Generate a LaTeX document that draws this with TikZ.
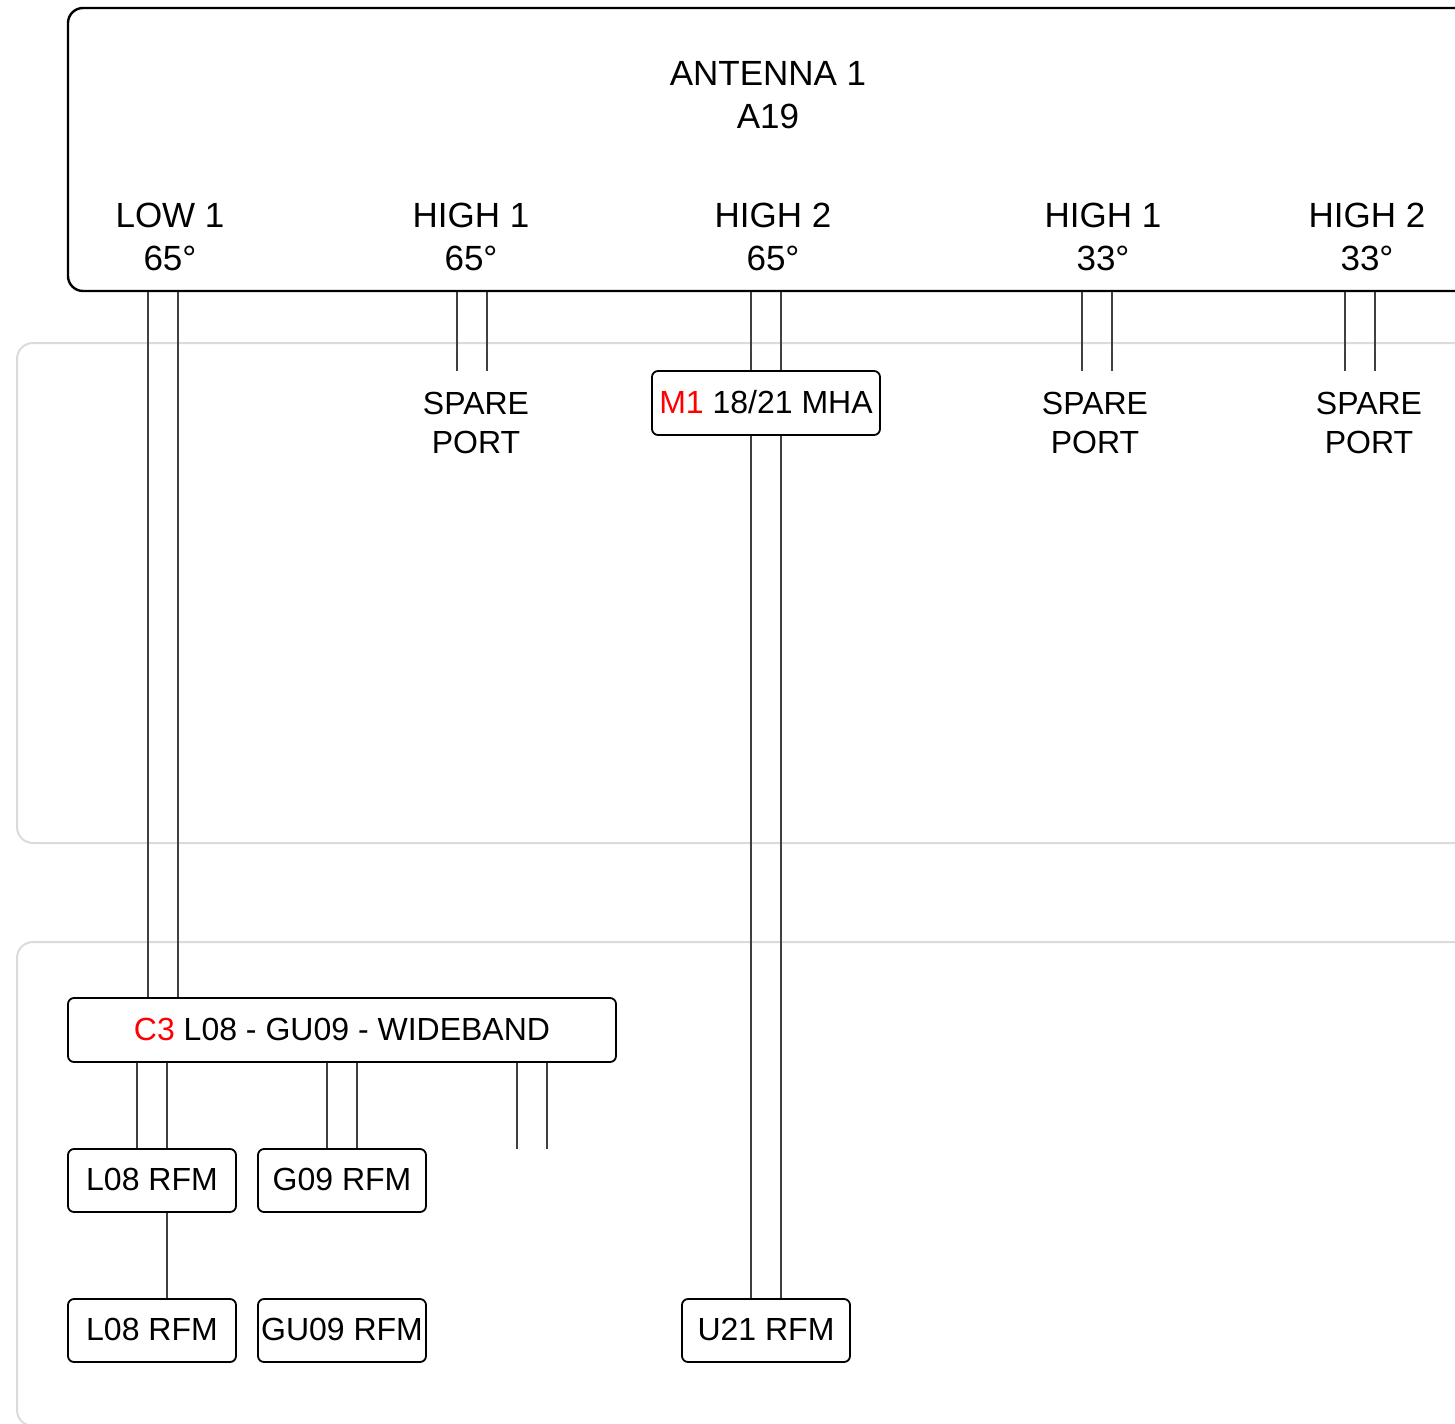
\documentclass[tikz,border=0pt]{standalone}
\usepackage{fontspec}
\setmainfont{Liberation Sans}
\begin{document}
\begin{tikzpicture}[x=0.5pt,y=-0.5pt,
  panel/.style={draw=black!14, line width=1pt, rounded corners=8pt},
  antbox/.style={draw=black, line width=1.2pt, rounded corners=7.5pt, inner sep=0pt},
  unitbox/.style={draw=black, line width=0.9pt, rounded corners=3pt, inner sep=0pt,
    font=\fontsize{16}{19.5}\selectfont, text height=1.0em, text depth=0pt},
  lbl/.style={font=\fontsize{17.5}{21.5}\selectfont, align=center, inner sep=0pt},
  spare/.style={font=\fontsize{16}{19.5}\selectfont, align=center, inner sep=0pt},
  feeder/.style={draw=black!75, line width=0.6pt}
]
\useasboundingbox (0,0) rectangle (1455,1423);
\clip (0,0) rectangle (1455,1423);
% background panels
\node[panel, minimum width=731.5pt, minimum height=250pt] (p1) at (748.5,593) {};
\node[panel, minimum width=731.5pt, minimum height=242pt] (p2) at (748.5,1184) {};
% antenna
\node[antbox, minimum width=701pt, minimum height=141.5pt] (ant) at (769,149.5) {};
\node[lbl] (antname) at (768,95) {ANTENNA 1\\A19};
\node[lbl] (low1) at (170,237) {LOW 1\\65°};
\node[lbl] (hi1a) at (471,237) {HIGH 1\\65°};
\node[lbl] (hi2a) at (773,237) {HIGH 2\\65°};
\node[lbl] (hi1b) at (1103,237) {HIGH 1\\33°};
\node[lbl] (hi2b) at (1367,237) {HIGH 2\\33°};
% spare ports
\node[spare] (sp1) at (476,423) {SPARE\\PORT};
\node[spare] (sp2) at (1095,423) {SPARE\\PORT};
\node[spare] (sp3) at (1369,423) {SPARE\\PORT};
\coordinate (sp1t) at (472,371);
\coordinate (sp2t) at (1097,371);
\coordinate (sp3t) at (1360,371);
% units
\node[unitbox, minimum width=114pt, minimum height=32pt] (m1) at (766,403) {\textcolor[rgb]{1,0,0}{M1} 18/21 MHA};
\node[unitbox, minimum width=274pt, minimum height=32pt] (c3) at (342,1030) {\textcolor[rgb]{1,0,0}{C3} L08 - GU09 - WIDEBAND};
\node[unitbox, minimum width=84pt, minimum height=31.5pt] (l08a) at (152,1180.5) {L08 RFM};
\node[unitbox, minimum width=84pt, minimum height=31.5pt] (g09) at (342,1180.5) {G09 RFM};
\node[unitbox, minimum width=84pt, minimum height=31.5pt] (l08b) at (152,1330.5) {L08 RFM};
\node[unitbox, minimum width=84pt, minimum height=31.5pt] (gu09) at (342,1330.5) {GU09 RFM};
\node[unitbox, minimum width=84pt, minimum height=31.5pt] (u21) at (766,1330.5) {U21 RFM};
\coordinate (dang) at (532,1149);
% feeders
\draw[feeder] (ant.south -| 148,0) -- (c3.north -| 148,0);
\draw[feeder] (ant.south -| 178,0) -- (c3.north -| 178,0);
\draw[feeder] (ant.south -| 457,0) -- (sp1t -| 457,0);
\draw[feeder] (ant.south -| 487,0) -- (sp1t -| 487,0);
\draw[feeder] (ant.south -| 751,0) -- (m1.north -| 751,0);
\draw[feeder] (ant.south -| 781,0) -- (m1.north -| 781,0);
\draw[feeder] (m1.south -| 751,0) -- (u21.north -| 751,0);
\draw[feeder] (m1.south -| 781,0) -- (u21.north -| 781,0);
\draw[feeder] (ant.south -| 1082,0) -- (sp2t -| 1082,0);
\draw[feeder] (ant.south -| 1112,0) -- (sp2t -| 1112,0);
\draw[feeder] (ant.south -| 1345,0) -- (sp3t -| 1345,0);
\draw[feeder] (ant.south -| 1375,0) -- (sp3t -| 1375,0);
\draw[feeder] (c3.south -| 137,0) -- (l08a.north -| 137,0);
\draw[feeder] (c3.south -| 167,0) -- (l08a.north -| 167,0);
\draw[feeder] (c3.south -| 327,0) -- (g09.north -| 327,0);
\draw[feeder] (c3.south -| 357,0) -- (g09.north -| 357,0);
\draw[feeder] (c3.south -| 517,0) -- (dang -| 517,0);
\draw[feeder] (c3.south -| 547,0) -- (dang -| 547,0);
\draw[feeder] (l08a.south -| 167,0) -- (l08b.north -| 167,0);
\end{tikzpicture}
\end{document}
